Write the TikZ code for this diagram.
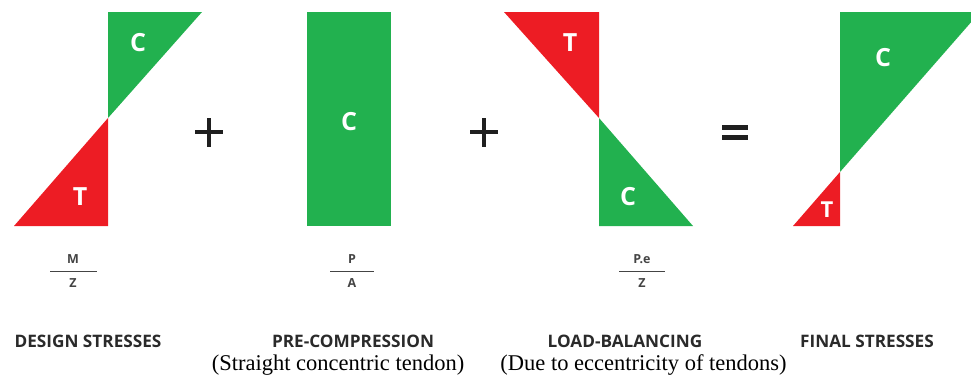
\documentclass[tikz,border=0pt]{standalone}
\usepackage{fontspec}
\setmainfont{Liberation Serif}
\newfontfamily\lblfont{Open Sans}
\definecolor{cgreen}{HTML}{22B14F}
\definecolor{cred}{HTML}{ED1C24}
\definecolor{ink}{HTML}{2A2A2A}
\definecolor{fracink}{HTML}{444444}
\tikzset{
  x=1pt, y=-1pt,
  comp/.style={fill=cgreen, draw=none},
  tens/.style={fill=cred, draw=none},
  zone/.style={text=white, font=\lblfont\bfseries\fontsize{25}{25}\selectfont, inner sep=0pt},
  caption/.style={text=ink, font=\lblfont\bfseries\fontsize{17.2}{18}\selectfont, inner sep=0pt, anchor=base},
  fracline/.style={draw=fracink, line width=1pt},
  fractext/.style={text=fracink, font=\lblfont\bfseries\fontsize{12.5}{12.5}\selectfont, inner sep=0pt},
  opbar/.style={draw=black!88, line width=4pt},
  note/.style={text=black, font=\fontsize{22.5}{24}\selectfont, inner sep=0pt, anchor=base}
}
\begin{document}
\begin{tikzpicture}
\useasboundingbox (0,0) rectangle (971,376);
\begin{scope}
\clip (0,0) rectangle (971,376);
% design stresses
\fill[comp] (108,12) -- (202,12) -- (108,118) -- cycle;
\fill[tens] (108,118) -- (108,226) -- (14,226) -- cycle;
\node[zone] (dsC) at (138,43) {C};
\node[zone] (dsT) at (80,197) {T};
% plus 1
\draw[opbar] (195,132) -- (223,132);
\draw[opbar] (209,118) -- (209,147);
% pre-compression
\fill[comp] (307,12) rectangle (391,226);
\node[zone] (pcC) at (349,122) {C};
% plus 2
\draw[opbar] (470,132) -- (498,132);
\draw[opbar] (484,118) -- (484,147);
% load balancing
\fill[tens] (504,12) -- (599,12) -- (599,118) -- cycle;
\fill[comp] (599,118) -- (599,226) -- (693,226) -- cycle;
\node[zone] (lbT) at (570,43) {T};
\node[zone] (lbC) at (628,197) {C};
% equals
\draw[line width=5pt, draw=black!88] (722,127) -- (748,127);
\draw[line width=5pt, draw=black!88] (722,137) -- (748,137);
% final stresses
\fill[comp] (840,12) -- (980,12) -- (840,172) -- cycle;
\fill[tens] (840,172) -- (840,226) -- (793,226) -- cycle;
\node[zone] (fsC) at (883,58) {C};
\node[zone, font=\lblfont\bfseries\fontsize{22}{22}\selectfont] (fsT) at (827,210) {T};
\end{scope}
% fractions
\node[fractext] (mz1) at (73,259.5) {M};
\draw[fracline] (50,271) -- (97,271);
\node[fractext] (mz2) at (73,283.5) {Z};
\node[fractext] (pa1) at (352,259.5) {P};
\draw[fracline] (330,271) -- (374,271);
\node[fractext] (pa2) at (352,283.5) {A};
\node[fractext] (pe1) at (642,259.5) {P.e};
\draw[fracline] (619,271) -- (665,271);
\node[fractext] (pe2) at (642,283.5) {Z};
% captions
\node[caption] (cap1) at (88,347) {DESIGN STRESSES};
\node[caption] (cap2) at (353,347) {PRE-COMPRESSION};
\node[caption] (cap3) at (625,347) {LOAD-BALANCING};
\node[caption] (cap4) at (867,347) {FINAL STRESSES};
\node[note] (n1) at (338,370) {(Straight concentric tendon)};
\node[note] (n2) at (643.5,370) {(Due to eccentricity of tendons)};
\end{tikzpicture}
\end{document}
